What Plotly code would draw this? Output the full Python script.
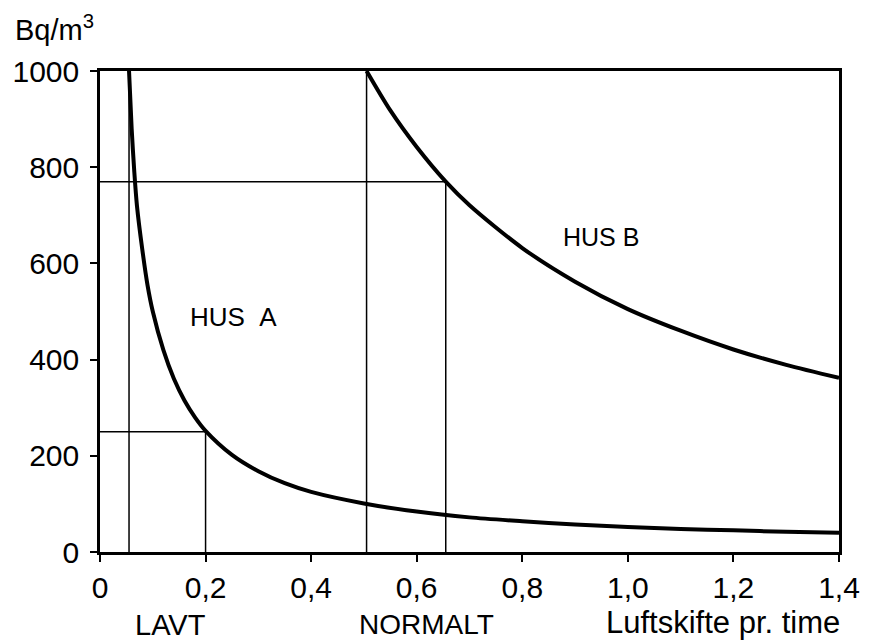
import plotly.graph_objects as go

# Curve HUS A
hus_a_x = [0.055, 0.06, 0.065, 0.07, 0.08, 0.09, 0.1, 0.12, 0.14, 0.16, 0.18, 0.2,
           0.25, 0.3, 0.35, 0.4, 0.5, 0.6, 0.7, 0.8, 0.9, 1.0, 1.1, 1.2, 1.3, 1.4]
hus_a_y = [1000, 880, 790, 720, 630, 555, 500, 420, 360, 315, 280, 252,
           202, 168, 143, 125, 101, 84, 72, 64, 57, 52, 48, 45, 42, 40]

# Curve HUS B
hus_b_x = [0.505, 0.55, 0.6, 0.655, 0.7, 0.8, 0.9, 1.0, 1.1, 1.2, 1.3, 1.4]
hus_b_y = [1000, 918, 842, 770, 721, 632, 562, 505, 460, 421, 389, 362]

# Guide lines
guide_h_y = [770, 250]
guide_h_xend = [0.655, 0.2]
guide_v_x = [0.055, 0.2, 0.505, 0.655]
guide_v_ytop = [1000, 250, 1000, 770]

# Ticks
x_tickvals = [0, 0.2, 0.4, 0.6, 0.8, 1.0, 1.2, 1.4]
x_ticktext = ["0", "0,2", "0,4", "0,6", "0,8", "1,0", "1,2", "1,4"]
y_tickvals = [0, 200, 400, 600, 800, 1000]
y_ticktext = ["0", "200", "400", "600", "800", "1000"]

FONT = "Liberation Sans"

gx, gy = [], []
for yv, xe in zip(guide_h_y, guide_h_xend):
    gx += [0, xe, None]
    gy += [yv, yv, None]
for xv, yt in zip(guide_v_x, guide_v_ytop):
    gx += [xv, xv, None]
    gy += [0, yt, None]

fig = go.Figure()
fig.add_trace(go.Scatter(x=gx, y=gy, mode="lines",
                         line=dict(color="black", width=1.5),
                         hoverinfo="skip", showlegend=False))
fig.add_trace(go.Scatter(x=hus_a_x, y=hus_a_y, mode="lines",
                         line=dict(color="black", width=4, shape="spline", smoothing=0.8),
                         showlegend=False, name="HUS A"))
fig.add_trace(go.Scatter(x=hus_b_x, y=hus_b_y, mode="lines",
                         line=dict(color="black", width=4, shape="spline", smoothing=0.8),
                         showlegend=False, name="HUS B"))

fig.update_layout(
    width=872, height=640,
    margin=dict(l=100, r=29, t=71, b=88),
    paper_bgcolor="white", plot_bgcolor="white",
    font=dict(family=FONT, size=30, color="black"),
    xaxis=dict(range=[0, 1.4], tickvals=x_tickvals, ticktext=x_ticktext,
               showgrid=False, zeroline=False, showline=True, linecolor="black",
               linewidth=2.5, mirror=True, ticks="outside", ticklen=7, tickwidth=2,
               tickcolor="black", tickfont=dict(family=FONT, size=30)),
    yaxis=dict(range=[0, 1000], tickvals=y_tickvals, ticktext=y_ticktext,
               showgrid=False, zeroline=False, showline=True, linecolor="black",
               linewidth=2.5, mirror=True, ticks="outside", ticklen=7, tickwidth=2,
               tickcolor="black", tickfont=dict(family=FONT, size=30),
               ticklabelstandoff=5),
    annotations=[
        dict(text="Bq/m<sup>3</sup>", xref="paper", yref="paper",
             x=-0.118, y=1.09, xanchor="left", yanchor="middle", showarrow=False,
             font=dict(family=FONT, size=29)),
        dict(text="HUS&nbsp;&nbsp;A", x=0.252, y=488, xref="x", yref="y", showarrow=False,
             font=dict(family=FONT, size=26)),
        dict(text="HUS B", x=0.95, y=655, xref="x", yref="y", showarrow=False,
             font=dict(family=FONT, size=25)),
        dict(text="LAVT", x=0.134, y=-0.151, xref="x", yref="paper", showarrow=False,
             xanchor="center", yanchor="middle", font=dict(family=FONT, size=29)),
        dict(text="NORMALT", x=0.618, y=-0.151, xref="x", yref="paper", showarrow=False,
             xanchor="center", yanchor="middle", font=dict(family=FONT, size=28)),
        dict(text="Luftskifte pr. time", x=1.18, y=-0.146, xref="x", yref="paper",
             showarrow=False, xanchor="center", yanchor="middle",
             font=dict(family=FONT, size=31)),
    ],
)

fig.write_html("out.html")
